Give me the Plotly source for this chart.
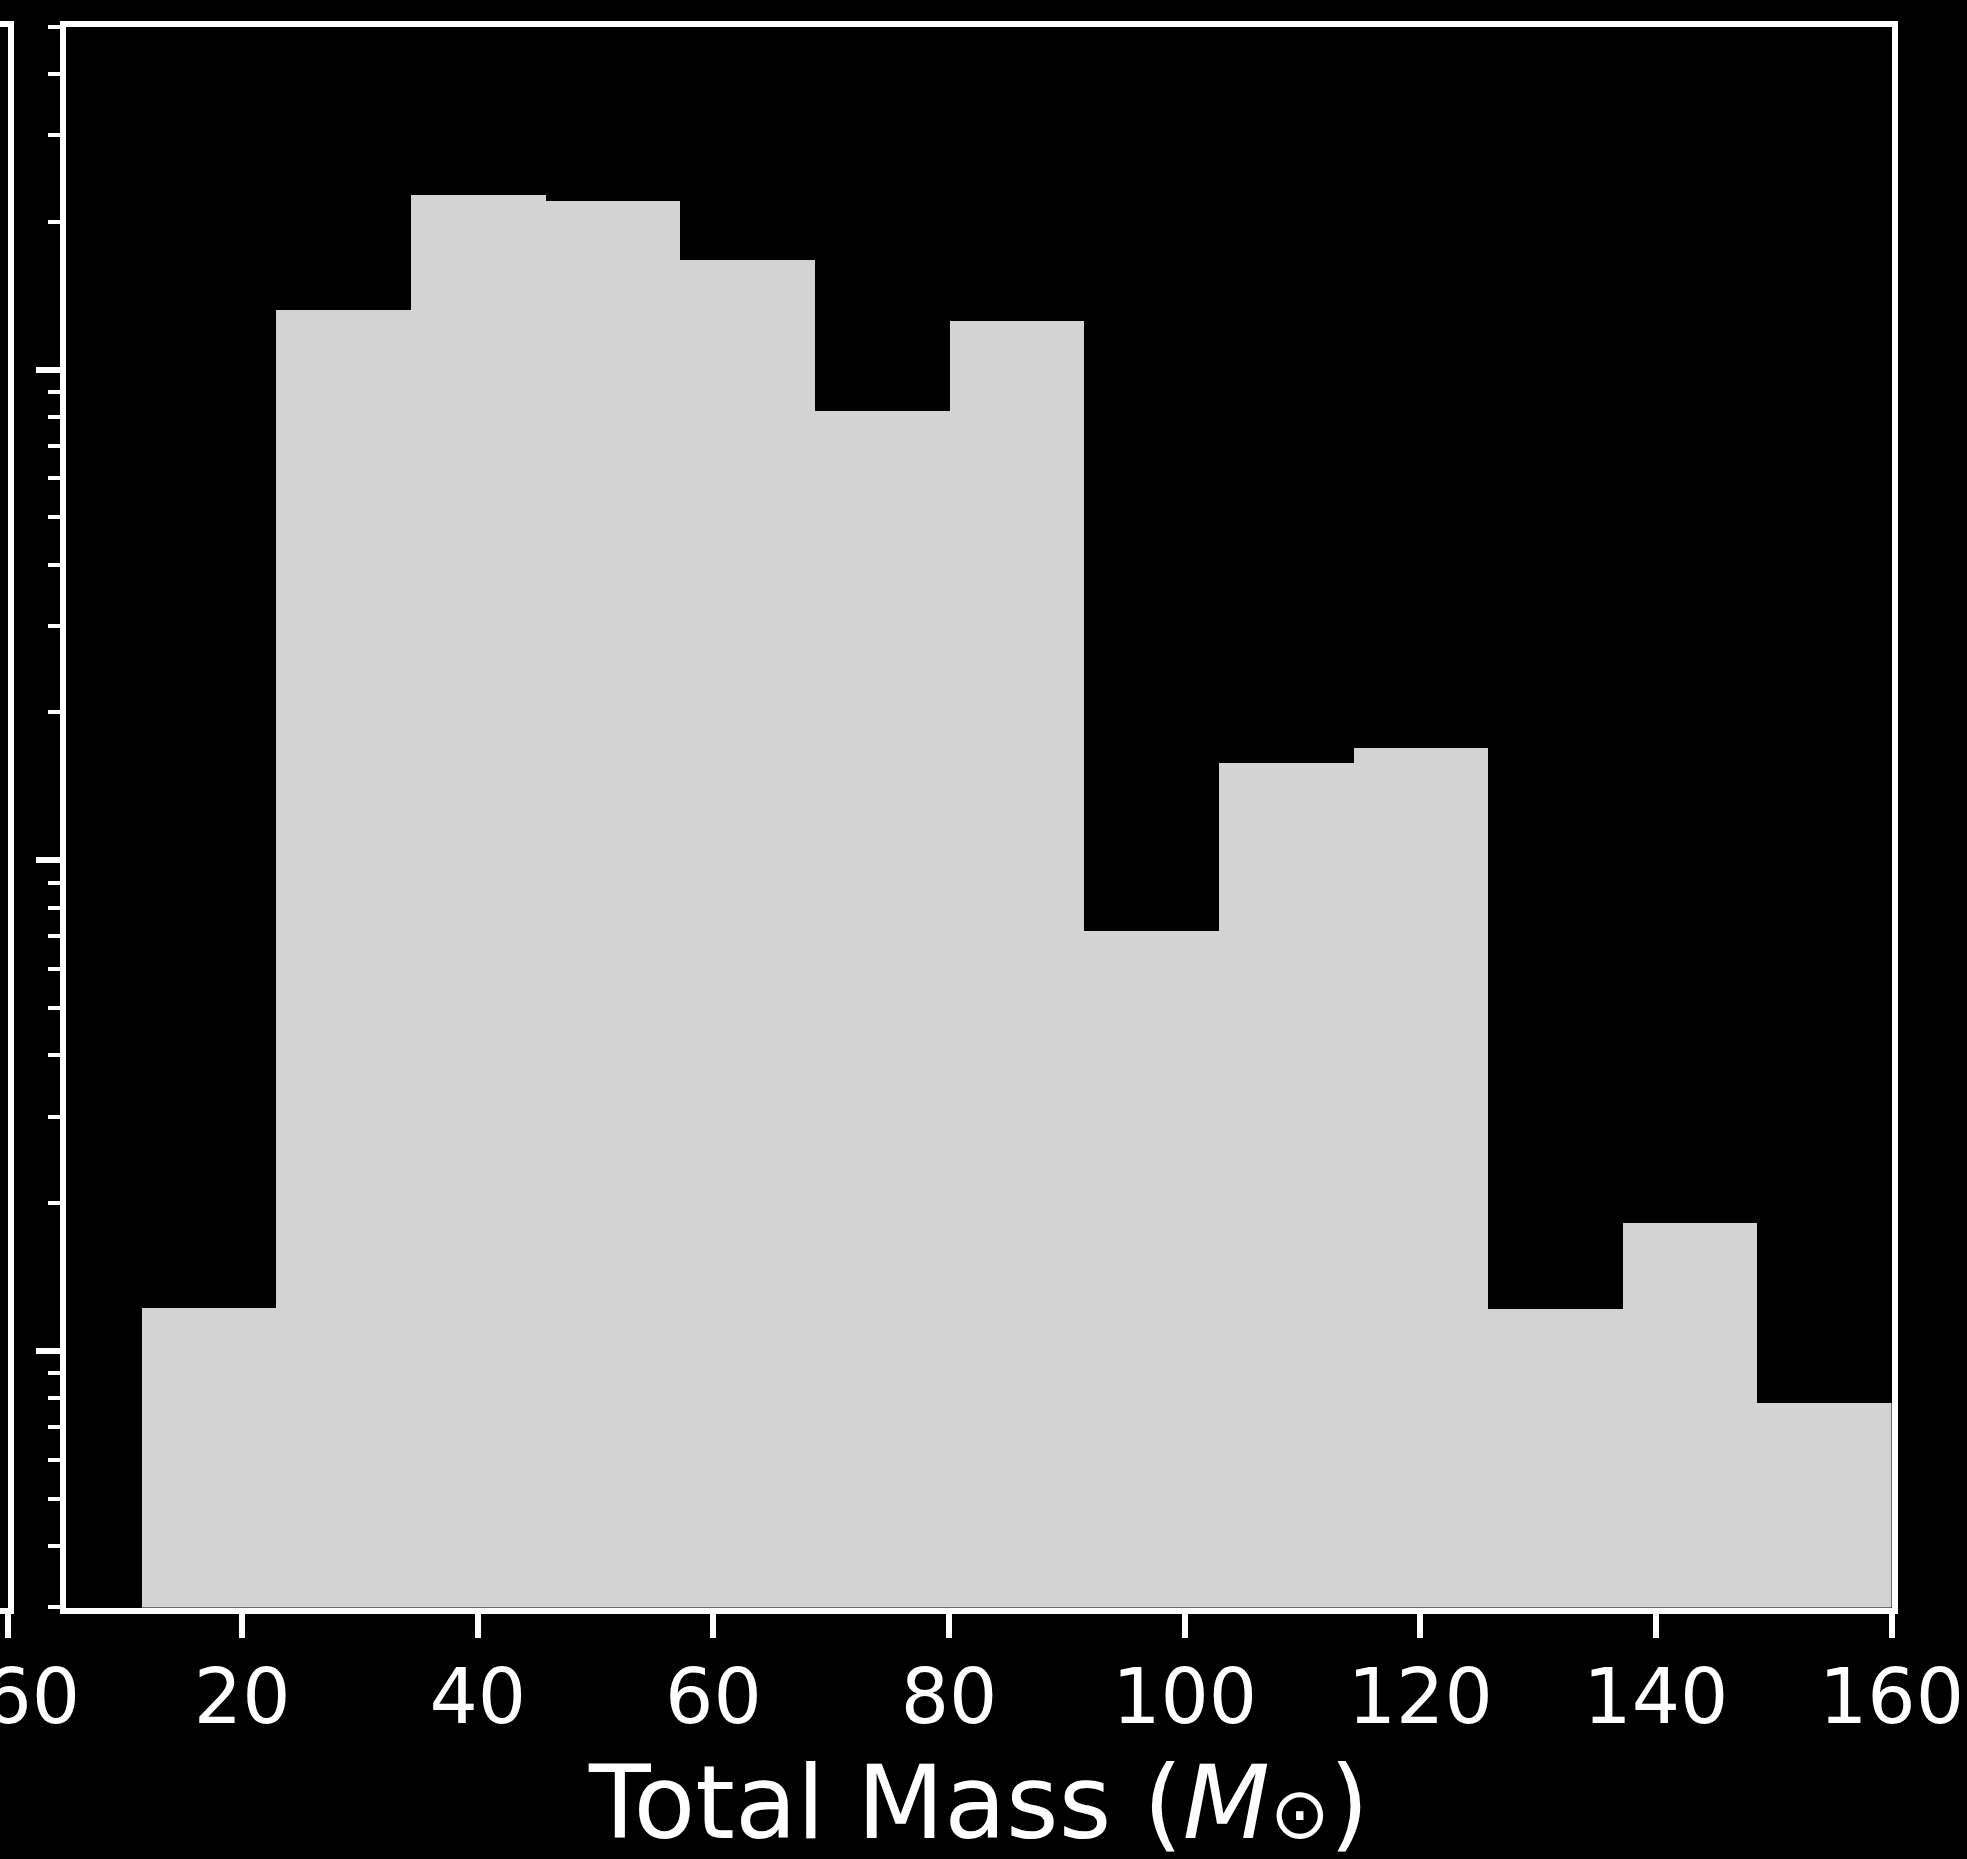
import math
import plotly.graph_objects as go

# Histogram of total mass, log-scaled bin heights
bin_edges = [11.43, 22.86, 34.29, 45.71, 57.14, 68.57, 80.00, 91.43,
             102.86, 114.29, 125.71, 137.14, 148.57, 160.00]
bin_heights = [1.225, 132.3, 227.0, 220.6, 167.2, 82.5, 126.0,
               7.20, 15.84, 17.0, 1.218, 1.827, 0.786]

x_ticks = [20, 40, 60, 80, 100, 120, 140, 160]
x_tick_labels = ["20", "40", "60", "80", "100", "120", "140", "160"]
y_major = [1, 10, 100]
y_minor = [0.3, 0.4, 0.5, 0.6, 0.7, 0.8, 0.9,
           2, 3, 4, 5, 6, 7, 8, 9,
           20, 30, 40, 50, 60, 70, 80, 90,
           200, 300, 400, 500]
x_range = [5, 160]
y_range = [0.3, 500]
x_title = 'Total Mass (<i>M</i><span style="font-size:71px">⊙</span>)'

centers = [(a + b) / 2 for a, b in zip(bin_edges[:-1], bin_edges[1:])]
widths = [b - a for a, b in zip(bin_edges[:-1], bin_edges[1:])]

W, H = 1967, 1859
FONT = "DejaVu Sans"
LW = 6

y_log_range = [math.log10(y_range[0]) - 1e-4, math.log10(y_range[1]) + 1e-4]

fig = go.Figure()
fig.add_trace(go.Bar(
    x=centers, y=bin_heights, width=widths,
    marker=dict(color="#d3d3d3", line=dict(width=0)),
    xaxis="x", yaxis="y", showlegend=False, hoverinfo="skip",
))
# neighbouring panel, only its right edge falls inside the canvas
fig.add_trace(go.Scatter(x=[], y=[], xaxis="x2", yaxis="y2", showlegend=False))

px_per_unit = (1893 - 64) / (x_range[1] - x_range[0])
left_w = 7.5

fig.update_layout(
    width=W, height=H,
    margin=dict(l=0, r=0, t=0, b=0),
    paper_bgcolor="black", plot_bgcolor="black",
    bargap=0,
    font=dict(family=FONT, color="white", size=76),
    xaxis=dict(
        domain=[65.5 / W, 1891.5 / W], anchor="y",
        range=x_range,
        tickmode="array", tickvals=x_ticks, ticktext=x_tick_labels,
        ticks="outside", ticklen=24, tickwidth=LW, tickcolor="white",
        ticklabelstandoff=-6, ticklabeloverflow="allow",
        showline=True, linewidth=LW, linecolor="white", mirror=True,
        showgrid=False, zeroline=False,
        tickfont=dict(size=76, color="white", family=FONT),
        automargin=False,
    ),
    yaxis=dict(
        domain=[(H - 1607.5) / H, (H - 26.5) / H], anchor="x",
        type="log", range=y_log_range,
        tickmode="array", tickvals=y_major, showticklabels=False,
        ticks="outside", ticklen=24, tickwidth=LW, tickcolor="white",
        minor=dict(tickmode="array", tickvals=y_minor, ticks="outside",
                   ticklen=12, tickwidth=4, tickcolor="white", showgrid=False),
        showline=True, linewidth=LW, linecolor="white", mirror=True,
        showgrid=False, zeroline=False,
        automargin=False,
    ),
    xaxis2=dict(
        domain=[0, left_w / W], anchor="y2",
        range=[x_range[1] - left_w / px_per_unit, x_range[1]],
        tickmode="array", tickvals=[160], ticktext=["160"],
        ticks="outside", ticklen=24, tickwidth=LW, tickcolor="white",
        ticklabelstandoff=-6, ticklabeloverflow="allow",
        showline=True, linewidth=LW, linecolor="white", mirror=True,
        showgrid=False, zeroline=False,
        tickfont=dict(size=76, color="white", family=FONT),
        automargin=False,
    ),
    yaxis2=dict(
        domain=[(H - 1607.5) / H, (H - 26.5) / H], anchor="x2",
        type="log", range=y_log_range, side="right",
        showticklabels=False, ticks="",
        showline=True, linewidth=LW, linecolor="white",
        showgrid=False, zeroline=False,
        automargin=False,
    ),
    annotations=[dict(
        text=x_title, xref="x domain", yref="paper",
        x=0.5, y=(H - 1803) / H, xanchor="center", yanchor="middle",
        showarrow=False,
        font=dict(size=101, color="white", family=FONT),
    )],
)

fig.write_html("out.html")
